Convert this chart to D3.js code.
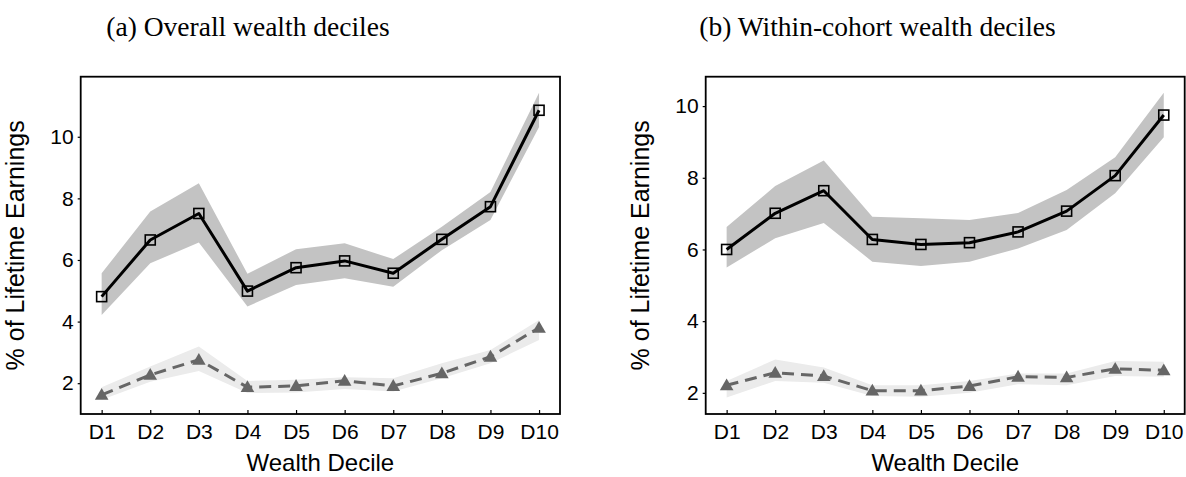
<!DOCTYPE html>
<html>
<head>
<meta charset="utf-8">
<script src="https://cdn.jsdelivr.net/npm/d3@7"></script>
<style>
  html, body { margin: 0; padding: 0; background: #fff; }
  svg { display: block; }
</style>
</head>
<body>
<script>
// ---------- data ----------
const deciles = ["D1", "D2", "D3", "D4", "D5", "D6", "D7", "D8", "D9", "D10"];
const yTicks = [2, 4, 6, 8, 10];
const titles = ["(a) Overall wealth deciles", "(b) Within-cohort wealth deciles"];
const xLabel = "Wealth Decile";
const yLabel = "% of Lifetime Earnings";

// panel (a): overall wealth deciles
const overallSolid   = [4.81, 6.65, 7.51, 4.99, 5.75, 5.97, 5.57, 6.67, 7.73, 10.86];
const overallSolidLo = [4.21, 5.89, 6.57, 4.49, 5.19, 5.41, 5.13, 6.32, 7.30, 10.32];
const overallSolidHi = [5.57, 7.57, 8.49, 5.55, 6.35, 6.54, 6.03, 7.08, 8.21, 11.43];
const overallDash    = [1.62, 2.27, 2.76, 1.87, 1.91, 2.08, 1.91, 2.32, 2.86, 3.80];
const overallDashLo  = [1.46, 2.05, 2.40, 1.68, 1.70, 1.81, 1.73, 2.16, 2.65, 3.40];
const overallDashHi  = [1.87, 2.54, 3.19, 2.07, 2.11, 2.19, 2.16, 2.65, 3.08, 4.05];

// panel (b): within-cohort wealth deciles
const withinSolid   = [6.00, 7.01, 7.64, 6.28, 6.14, 6.19, 6.49, 7.07, 8.06, 9.75];
const withinSolidLo = [5.50, 6.31, 6.74, 5.66, 5.54, 5.66, 6.03, 6.54, 7.57, 9.13];
const withinSolidHi = [6.63, 7.77, 8.48, 6.91, 6.87, 6.82, 7.02, 7.66, 8.57, 10.37];
const withinDash    = [2.21, 2.56, 2.47, 2.06, 2.06, 2.19, 2.45, 2.43, 2.67, 2.63];
const withinDashLo  = [1.87, 2.33, 2.28, 1.91, 1.89, 2.00, 2.24, 2.21, 2.47, 2.45];
const withinDashHi  = [2.33, 2.93, 2.71, 2.21, 2.21, 2.33, 2.54, 2.54, 2.89, 2.87];

const yDomainA = [1.0, 11.95];
const yDomainB = [1.41, 10.82];

// ---------- layout ----------
const W = 1186, H = 477;
const plotTop = 76.7, plotBottom = 414;
const panels = [
  { x0: 80.7, x1: 560, titleX: 248, yDomain: yDomainA, title: titles[0],
    solid: overallSolid, solidLo: overallSolidLo, solidHi: overallSolidHi,
    dash: overallDash, dashLo: overallDashLo, dashHi: overallDashHi },
  { x0: 705.7, x1: 1184.7, titleX: 877.5, yDomain: yDomainB, title: titles[1],
    solid: withinSolid, solidLo: withinSolidLo, solidHi: withinSolidHi,
    dash: withinDash, dashLo: withinDashLo, dashHi: withinDashHi }
];

const svg = d3.select("body").append("svg").attr("width", W).attr("height", H);
const sansFont = "'Liberation Sans', Arial, Helvetica, sans-serif";
const serifFont = "'Liberation Serif', 'Times New Roman', serif";

panels.forEach(p => {
  const x = d3.scalePoint().domain(deciles).range([p.x0, p.x1]).padding(0.431);
  const y = d3.scaleLinear().domain(p.yDomain).range([plotBottom, plotTop]);
  const g = svg.append("g");

  const idx = d3.range(deciles.length);
  const area = (lo, hi) => d3.area()
    .x(i => x(deciles[i])).y0(i => y(lo[i])).y1(i => y(hi[i]))(idx);
  const line = vals => d3.line()
    .x(i => x(deciles[i])).y(i => y(vals[i]))(idx);

  // bands
  g.append("path").attr("d", area(p.dashLo, p.dashHi)).attr("fill", "#ebebeb");
  g.append("path").attr("d", area(p.solidLo, p.solidHi)).attr("fill", "#c3c3c3");

  // dashed series
  g.append("path").attr("d", line(p.dash))
    .attr("fill", "none").attr("stroke", "#666").attr("stroke-width", 3)
    .attr("stroke-dasharray", "12,7");
  g.selectAll(".tri").data(idx).join("path")
    .attr("d", d3.symbol().type(d3.symbolTriangle).size(80))
    .attr("transform", i => `translate(${x(deciles[i])},${y(p.dash[i]) + 1})`)
    .attr("fill", "#666");

  // solid series
  g.append("path").attr("d", line(p.solid))
    .attr("fill", "none").attr("stroke", "#000").attr("stroke-width", 3)
    .attr("stroke-linejoin", "round");
  const s = 10;
  g.selectAll(".sq").data(idx).join("rect")
    .attr("x", i => x(deciles[i]) - s / 2)
    .attr("y", i => y(p.solid[i]) - s / 2)
    .attr("width", s).attr("height", s)
    .attr("fill", "none").attr("stroke", "#000").attr("stroke-width", 1.6);

  // axes
  const yAxis = d3.axisLeft(y).tickValues(yTicks).tickSize(3).tickPadding(4).tickFormat(d3.format("d"));
  const ya = g.append("g").attr("transform", `translate(${p.x0},0)`).call(yAxis);
  ya.select(".domain").remove();
  ya.selectAll("line").attr("stroke", "#000").attr("stroke-width", 1.2);
  ya.selectAll("text").attr("font-family", sansFont).attr("font-size", 21).attr("fill", "#000");

  const xAxis = d3.axisBottom(x).tickSize(-4).tickPadding(10);
  const xa = g.append("g").attr("transform", `translate(0,${plotBottom})`).call(xAxis);
  xa.select(".domain").remove();
  xa.selectAll("line").attr("stroke", "#000").attr("stroke-width", 1.2);
  xa.selectAll("text").attr("font-family", sansFont).attr("font-size", 21).attr("fill", "#000");

  // frame
  g.append("rect").attr("x", p.x0).attr("y", plotTop)
    .attr("width", p.x1 - p.x0).attr("height", plotBottom - plotTop)
    .attr("fill", "none").attr("stroke", "#000").attr("stroke-width", 1.8);

  // axis labels
  g.append("text").attr("x", (p.x0 + p.x1) / 2).attr("y", 471)
    .attr("text-anchor", "middle").attr("font-family", sansFont).attr("font-size", 24)
    .text(xLabel);
  g.append("text")
    .attr("transform", `translate(${p.x0 - 57},${(plotTop + plotBottom) / 2}) rotate(-90)`)
    .attr("text-anchor", "middle").attr("font-family", sansFont).attr("font-size", 25)
    .text(yLabel);

  // title
  svg.append("text").attr("x", p.titleX).attr("y", 36)
    .attr("text-anchor", "middle").attr("font-family", serifFont).attr("font-size", 27.5)
    .text(p.title);
});
</script>
</body>
</html>
